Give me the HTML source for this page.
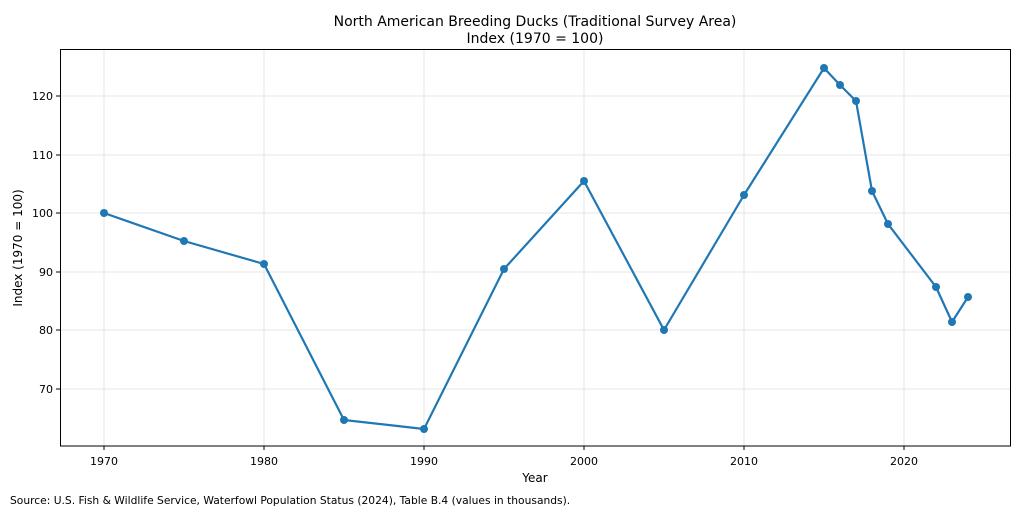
<!DOCTYPE html>
<html><head><meta charset="utf-8"><style>
html,body{margin:0;padding:0;background:#fff;}
svg{display:block;font-family:"DejaVu Sans","Liberation Sans",sans-serif;}
</style></head><body>
<svg width="1024" height="512" viewBox="0 0 1024 512" xmlns="http://www.w3.org/2000/svg">
<rect width="1024" height="512" fill="#fff"/>
<g stroke="#e6e6e6" stroke-width="1">
<line x1="104" y1="49" x2="104" y2="446"/><line x1="264" y1="49" x2="264" y2="446"/>
<line x1="424" y1="49" x2="424" y2="446"/><line x1="584" y1="49" x2="584" y2="446"/>
<line x1="744" y1="49" x2="744" y2="446"/><line x1="904" y1="49" x2="904" y2="446"/>
<line x1="60" y1="96" x2="1011" y2="96"/><line x1="60" y1="155" x2="1011" y2="155"/>
<line x1="60" y1="213" x2="1011" y2="213"/><line x1="60" y1="272" x2="1011" y2="272"/>
<line x1="60" y1="330" x2="1011" y2="330"/><line x1="60" y1="389" x2="1011" y2="389"/>
</g>
<rect x="60.5" y="49.5" width="950" height="396.5" fill="none" stroke="#000" stroke-width="1"/>
<g stroke="#000" stroke-width="1">
<line x1="104" y1="446" x2="104" y2="450"/><line x1="264" y1="446" x2="264" y2="450"/>
<line x1="424" y1="446" x2="424" y2="450"/><line x1="584" y1="446" x2="584" y2="450"/>
<line x1="744" y1="446" x2="744" y2="450"/><line x1="904" y1="446" x2="904" y2="450"/>
<line x1="56" y1="96" x2="60" y2="96"/><line x1="56" y1="155" x2="60" y2="155"/>
<line x1="56" y1="213" x2="60" y2="213"/><line x1="56" y1="272" x2="60" y2="272"/>
<line x1="56" y1="330" x2="60" y2="330"/><line x1="56" y1="389" x2="60" y2="389"/>
</g>
<g font-size="11" fill="#000" text-anchor="middle">
<text x="104" y="465">1970</text><text x="264" y="465">1980</text><text x="424" y="465">1990</text>
<text x="584" y="465">2000</text><text x="744" y="465">2010</text><text x="904" y="465">2020</text>
</g>
<g font-size="11" fill="#000" text-anchor="end">
<text x="53" y="100">120</text><text x="53" y="159">110</text><text x="53" y="217">100</text>
<text x="53" y="276">90</text><text x="53" y="334">80</text><text x="53" y="393">70</text>
</g>
<text x="535" y="482" font-size="12" text-anchor="middle">Year</text>
<text transform="translate(22,248) rotate(-90)" font-size="12" text-anchor="middle">Index (1970 = 100)</text>
<text x="535" y="26" font-size="14" text-anchor="middle">North American Breeding Ducks (Traditional Survey Area)</text>
<text x="535" y="43" font-size="14" text-anchor="middle">Index (1970 = 100)</text>
<text x="10" y="504" font-size="10.7">Source: U.S. Fish &amp; Wildlife Service, Waterfowl Population Status (2024), Table B.4 (values in thousands).</text>
<polyline fill="none" stroke="#1f77b4" stroke-width="2.2" stroke-linejoin="round" points="104,213 184,241 264,264 344,420 424,429 504,269 584,181 664,330 744,195 824,68 840,85 856,101 872,191 888,224 936,287 952,322 968,297"/>
<g fill="#1f77b4">
<circle cx="104" cy="213" r="4"/><circle cx="184" cy="241" r="4"/><circle cx="264" cy="264" r="4"/>
<circle cx="344" cy="420" r="4"/><circle cx="424" cy="429" r="4"/><circle cx="504" cy="269" r="4"/>
<circle cx="584" cy="181" r="4"/><circle cx="664" cy="330" r="4"/><circle cx="744" cy="195" r="4"/>
<circle cx="824" cy="68" r="4"/><circle cx="840" cy="85" r="4"/><circle cx="856" cy="101" r="4"/>
<circle cx="872" cy="191" r="4"/><circle cx="888" cy="224" r="4"/><circle cx="936" cy="287" r="4"/>
<circle cx="952" cy="322" r="4"/><circle cx="968" cy="297" r="4"/>
</g>
</svg>
</body></html>
